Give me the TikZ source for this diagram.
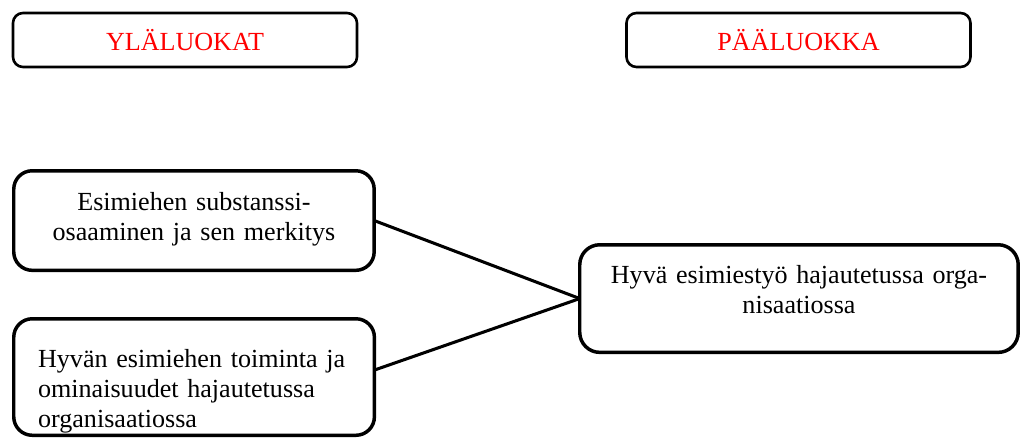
\documentclass[tikz,border=0pt]{standalone}
\usepackage{fontspec}
\setmainfont{Liberation Serif}

\newcommand\pxu{0.46pt}

\tikzset{
	luokka/.style={draw, line width=1.2pt, rounded corners=4.6pt, text=red,
		minimum width=344*\pxu, minimum height=54*\pxu,
		font=\fontsize{12}{13.8}\selectfont},
	laatikko/.style={draw, line width=1.6pt, rounded corners=8.5pt,
		outer sep=0pt, inner ysep=0pt, anchor=north west,
		font=\fontsize{12}{13.8}\selectfont},
	yhteys/.style={line width=1.4pt}
}

\begin{document}
\begin{tikzpicture}[x=\pxu, y=-\pxu]
		\useasboundingbox (0,0) rectangle (1022,441);

		\node[luokka] (ylaluokat) at (185,40)   {YLÄLUOKAT};
		\node[luokka] (paaluokka) at (798.5,40) {PÄÄLUOKKA};

		\node[laatikko, inner xsep=0pt, text width=165.8pt, align=center,
			text height=18.1pt, text depth=27.7pt]
			(substanssi) at (13.75,170.75) {Esimiehen substanssi-\\osaaminen ja sen merkitys};
		\node[laatikko, inner xsep=11.2pt, text width=143.5pt, align=left,
			text height=22.2pt, text depth=31.4pt]
			(toiminta) at (13.75,318.75) {Hyvän esimiehen toiminta ja\\ominaisuudet hajautetussa\\organisaatiossa};
		\node[laatikko, inner xsep=0pt, text width=201.7pt, align=center,
			text height=17.6pt, text depth=31.9pt, rounded corners=9.2pt]
			(esimiestyo) at (579.75,244.75) {Hyvä esimiestyö hajautetussa orga-\\nisaatiossa};

		\draw[yhteys] (substanssi.east) -- (esimiestyo.west);
		\draw[yhteys] ([yshift=3.2pt]toiminta.east) -- (esimiestyo.west);
	\end{tikzpicture}
\end{document}
